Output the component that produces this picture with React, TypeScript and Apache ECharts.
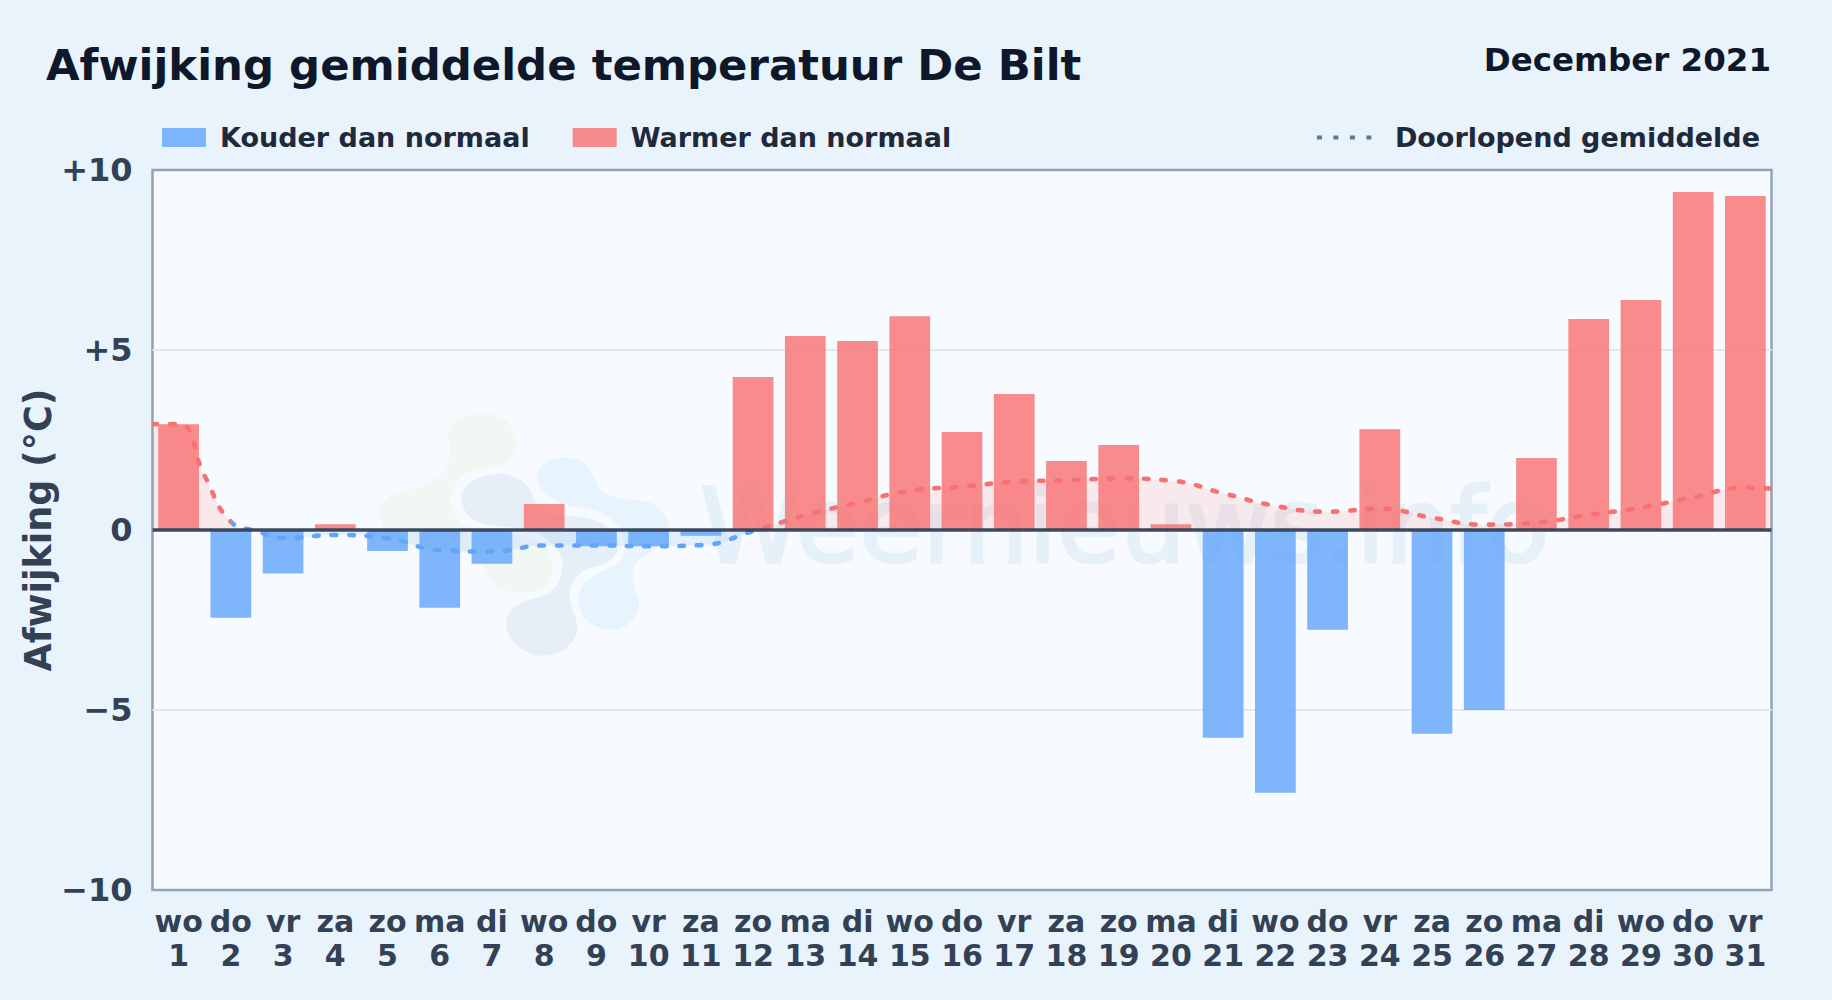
import React, { useEffect, useRef } from "react";
import * as echarts from "echarts";

const weekdays = ["wo","do","vr","za","zo","ma","di","wo","do","vr","za","zo","ma","di","wo","do","vr","za","zo","ma","di","wo","do","vr","za","zo","ma","di","wo","do","vr"];
const days = ["1","2","3","4","5","6","7","8","9","10","11","12","13","14","15","16","17","18","19","20","21","22","23","24","25","26","27","28","29","30","31"];
const anomalies = [2.94,-2.44,-1.21,0.16,-0.58,-2.16,-0.94,0.72,-0.45,-0.45,-0.16,4.25,5.39,5.25,5.94,2.72,3.78,1.92,2.36,0.16,-5.77,-7.3,-2.77,2.8,-5.66,-5.0,2.0,5.86,6.39,9.39,9.28];
const runX = [0.5,1,1.5,2,2.5,3,4,5,6,7,8,9,10,11,12,13,14,15,16,17,18,19,20,21,22,23,24,25,26,27,28,29,30,31,31.5];
const runY = [2.94,2.94,1.5,0.23,-0.03,-0.23,-0.14,-0.23,-0.56,-0.6,-0.43,-0.43,-0.45,-0.42,-0.03,0.41,0.76,1.09,1.2,1.34,1.38,1.43,1.37,1.02,0.67,0.51,0.59,0.34,0.15,0.21,0.42,0.62,0.91,1.18,1.15];
const yTicks = [-10,-5,0,5,10];
const tickLabels = ["−10","−5","0","+5","+10"];

const FONT = "DejaVu Sans";
const RED = "#f87171";
const BLUE = "#60a5fa";

echarts.graphic.registerShape("wmGreen", echarts.graphic.extendPath("M265 100C270 60 330 40 380 40C440 45 475 90 470 140C470 175 440 195 400 200C340 205 285 225 272 290C268 340 300 378 350 388C430 395 520 405 565 450C590 490 585 545 540 570C490 590 420 580 390 540C370 510 370 480 330 465C250 450 150 445 90 410C60 385 50 340 65 310C85 280 130 270 180 262C240 245 270 200 272 150C272 130 262 120 265 100Z", {}));
echarts.graphic.registerShape("wmSlate", echarts.graphic.extendPath("M305 290C310 245 370 222 420 222C480 225 510 255 525 300C535 335 560 350 620 350C690 345 755 370 775 430C780 475 735 495 690 505C645 520 625 560 630 600C640 640 660 670 650 705C630 750 590 770 545 768C490 765 440 725 438 670C440 625 490 600 540 592C585 580 610 540 608 490C600 440 560 410 500 385C430 380 350 385 320 340C310 325 305 310 305 290Z", {}));
echarts.graphic.registerShape("wmBlue", echarts.graphic.extendPath("M530 230C535 190 580 170 625 172C670 175 695 205 710 250C730 290 780 300 840 300C890 305 925 345 930 390C925 430 880 455 835 480C810 510 815 550 835 590C850 640 810 692 745 692C690 685 650 640 655 590C665 545 710 520 760 500C800 480 805 430 775 380C740 335 690 325 640 320C590 310 535 280 530 230Z", {}));

export default function App() {
  const ref = useRef<HTMLDivElement>(null);
  useEffect(() => {
    const chart = echarts.init(ref.current!, null, { renderer: "svg" });
    const categories = weekdays.map((w, i) => w + "\n" + days[i]);
    const cold = anomalies.map((v) => (v < 0 ? v : null));
    const warm = anomalies.map((v) => (v >= 0 ? v : null));
    const running = runX.map((x, i) => [x, runY[i]]);
    const wm = (shape: string, fill: string) => ({
      type: shape, x: 360, y: 400, scaleX: 1 / 3, scaleY: 1 / 3, z: 1, silent: true, style: { fill },
    });
    chart.setOption({
      animation: false,
      backgroundColor: "#e9f3fc",
      textStyle: { fontFamily: FONT },
      title: [
        { text: "Afwijking gemiddelde temperatuur De Bilt", left: 46, top: 43, padding: 0,
          textStyle: { fontFamily: FONT, fontWeight: "bold", fontSize: 43.4, color: "#0f172a" } },
        { text: "December 2021", right: 61, top: 43, padding: 0,
          textStyle: { fontFamily: FONT, fontWeight: "bold", fontSize: 32.5, color: "#0f172a" } },
      ],
      legend: [
        { left: 162, top: 124, padding: 0, itemWidth: 44, itemHeight: 19, itemGap: 43, icon: "rect", selectedMode: false,
          data: ["Kouder dan normaal", "Warmer dan normaal"],
          textStyle: { fontFamily: FONT, fontWeight: "bold", fontSize: 27, color: "#1e293b", padding: [0, 0, 0, 9] } },
        { right: 72, top: 124, padding: 0, itemWidth: 56, itemHeight: 19, selectedMode: false,
          data: ["Doorlopend gemiddelde"],
          itemStyle: { opacity: 0 },
          lineStyle: { color: "#64748b", type: [5, 11.5], width: 4, cap: "butt", opacity: 1 },
          textStyle: { fontFamily: FONT, fontWeight: "bold", fontSize: 27, color: "#1e293b", padding: [0, 0, 0, 17] } },
      ],
      grid: { left: 152.5, right: 60.5, top: 170, bottom: 110, show: true, backgroundColor: "#f7fbff", borderColor: "#94a3b8", borderWidth: 2.5, containLabel: false },
      xAxis: [
        { type: "category", data: categories, position: "bottom",
          axisLine: { show: false }, axisTick: { show: false },
          axisLabel: { interval: 0, margin: 14, fontFamily: FONT, fontWeight: "bold", fontSize: 30, lineHeight: 34.5, color: "#334155" } },
        { type: "value", min: 0.5, max: 31.5, show: false },
      ],
      yAxis: {
        type: "value", min: -10, max: 10, interval: 5,
        name: "Afwijking (°C)", nameLocation: "middle", nameGap: 96, nameRotate: 90, nameMoveOverlap: false,
        nameTextStyle: { fontFamily: FONT, fontWeight: "bold", fontSize: 36.5, color: "#334155" },
        axisLine: { show: false }, axisTick: { show: false },
        splitLine: { showMinLine: false, showMaxLine: false, lineStyle: { color: "#e3e8ed", width: 2 } },
        axisLabel: { margin: 20, fontFamily: FONT, fontWeight: "bold", fontSize: 32, color: "#334155",
          formatter: (v: number) => tickLabels[yTicks.indexOf(v)] ?? "" },
      },
      visualMap: [
        { show: false, type: "piecewise", seriesIndex: 2, dimension: 1,
          pieces: [{ min: -10, max: 0, color: BLUE }, { min: 0, max: 10, color: RED }] },
        { show: false, type: "piecewise", seriesIndex: 3, dimension: 0,
          pieces: [{ min: 0.5, max: 2, color: RED }, { min: 2, max: 12.08, color: BLUE }, { min: 12.08, max: 31.5, color: RED }] },
      ],
      graphic: { elements: [
        wm("wmGreen", "#f1f8f3"),
        wm("wmSlate", "#e6eff8"),
        wm("wmBlue", "#e7f4fd"),
        { type: "text", x: 700, y: 474, z: 1, silent: true,
          style: { text: "Weernieuws.info", fill: "#e6f0f9", stroke: "#e6f0f9", lineWidth: 3, font: "103px 'DejaVu Sans'" } },
      ] },
      series: [
        { name: "Kouder dan normaal", type: "bar", xAxisIndex: 0, data: cold, barWidth: "78%", barGap: "-100%", z: 2,
          itemStyle: { color: BLUE, opacity: 0.8 } },
        { name: "Warmer dan normaal", type: "bar", xAxisIndex: 0, data: warm, barWidth: "78%", barGap: "-100%", z: 2,
          itemStyle: { color: RED, opacity: 0.8 },
          markLine: { silent: true, symbol: "none", label: { show: false }, z: 6,
            lineStyle: { color: "#334155", width: 3.5, type: "solid", opacity: 0.95 }, data: [{ yAxis: 0 }] } },
        { name: "fill", type: "line", xAxisIndex: 1, data: running, smooth: 0.5, showSymbol: false, symbol: "none", z: 3,
          lineStyle: { width: 0, opacity: 0 }, areaStyle: { opacity: 0.13, origin: 0 } },
        { name: "Doorlopend gemiddelde", type: "line", xAxisIndex: 1, data: running, smooth: 0.5, showSymbol: false, symbol: "none", z: 4,
          lineStyle: { width: 4.6, type: [4.5, 13], cap: "round", opacity: 1 } },
      ],
    });
    return () => chart.dispose();
  }, []);
  return <div ref={ref} style={{ position: "absolute", left: 0, top: 0, width: 1832, height: 1000 }} />;
}
